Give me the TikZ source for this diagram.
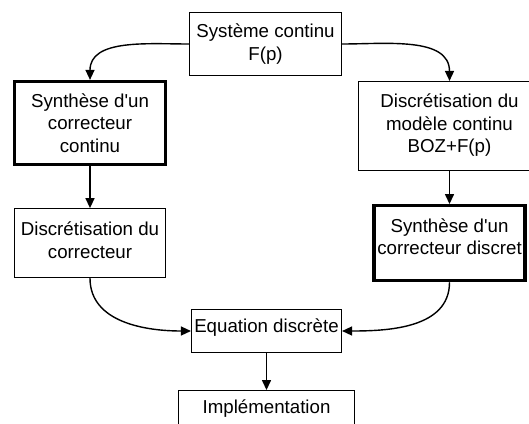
\documentclass[tikz,border=0pt]{standalone}
\usepackage{fontspec}
\setmainfont{Liberation Sans}
\usepackage{tikz}
\usetikzlibrary{positioning,arrows.meta}

\begin{document}
\begin{tikzpicture}[
		x=1pt,y=1pt,
		box/.style={draw, line width=1.1pt, align=center, inner sep=1pt,
			font=\fontsize{18.7}{22.5}\selectfont},
		boxepais/.style={box, line width=3.2pt},
		fleche/.style={->, line width=1.4pt},
		>={Triangle[length=10pt,width=9pt]}
		]
		\useasboundingbox (0,0) rectangle (529,-423);
		
		% ====== EN HAUT ======
		\node[box, minimum width=152pt, minimum height=63pt] (sys) at (265.5,-44)
		{Système continu\\F(p)};
		
		% ====== COLONNE GAUCHE ======
		\node[boxepais, minimum width=151pt, minimum height=83pt] (synC) at (90,-123)
		{Synthèse d\textquotesingle un\\correcteur\\continu};
		
		\node[box, minimum width=151pt, minimum height=69pt, text depth=6pt, below=42pt of synC] (discC)
		{Discrétisation du\\correcteur};
		
		% ====== COLONNE DROITE (coupée au bord) ======
		\node[box, minimum width=182pt, minimum height=89pt, text depth=5pt] (discM) at (449.5,-126)
		{Discrétisation du\\modèle continu\\BOZ+F(p)};
		
		\node[boxepais, minimum width=151pt, minimum height=75pt, text depth=13pt, below=33pt of discM] (synD)
		{Synthèse d\textquotesingle un\\correcteur discret};
		
		% ====== EN BAS ======
		\node[box, minimum width=150pt, minimum height=43pt, text depth=10pt] (eq) at (266.5,-331)
		{Equation discrète};
		
		\node[box, minimum width=176pt, minimum height=35pt, below=37pt of eq] (impl)
		{Implémentation};
		
		% ====== FLECHES ======
		\draw[fleche] (sys.west) to[out=180,in=90] (synC.north);
		\draw[fleche] (sys.east) to[out=0,in=90] (discM.north);
		
		\draw[fleche] (synC) -- (discC);
		\draw[fleche] (discM) -- (synD);
		
		\draw[fleche] (discC.south) to[out=-90,in=180] (eq.west);
		\draw[fleche] (synD.south) to[out=-90,in=0] (eq.east);
		
		\draw[fleche] (eq) -- (impl);
		
\end{tikzpicture}
\end{document}
